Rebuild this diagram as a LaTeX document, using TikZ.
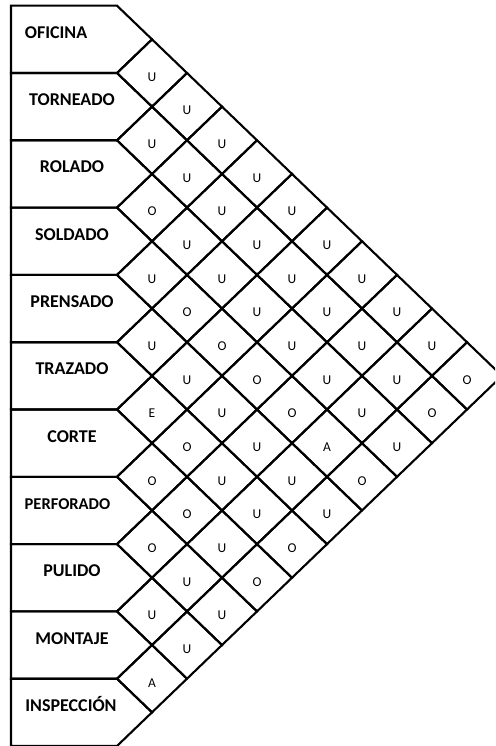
\documentclass[tikz,border=0pt]{standalone}
\usepackage{fontspec}
\setmainfont{Carlito}
\begin{document}
\begin{tikzpicture}[x=1pt,y=-1pt,
  grid/.style={line width=2.1pt, line join=miter},
  dept/.style={font=\bfseries\fontsize{18}{18}\selectfont, inner sep=0, anchor=base},
  rel/.style={font=\fontsize{13.5}{13.5}\selectfont, inner sep=0, anchor=base}]
\useasboundingbox (0,0) rectangle (495,746);
\clip (0,0) rectangle (495,746);
% department boxes
\foreach \k in {0,...,10} {
  \pgfmathsetmacro\t{5.7+67.3*\k}
  \pgfmathsetmacro\m{\t+33.65}
  \pgfmathsetmacro\b{\t+67.3}
  \draw[grid] (11,\t) -- (117,\t) -- (152,\m) -- (117,\b) -- (11,\b) -- cycle;
}
% relationship diamonds
\foreach \c/\s/\v in {1/1/U,1/3/U,1/5/O,1/7/U,1/9/U,1/11/E,1/13/O,1/15/O,1/17/U,1/19/A,
  2/2/U,2/4/U,2/6/U,2/8/O,2/10/U,2/12/O,2/14/O,2/16/U,2/18/U,
  3/3/U,3/5/U,3/7/U,3/9/O,3/11/U,3/13/U,3/15/U,3/17/U,
  4/4/U,4/6/U,4/8/U,4/10/O,4/12/U,4/14/U,4/16/O,
  5/5/U,5/7/U,5/9/U,5/11/O,5/13/U,5/15/O,
  6/6/U,6/8/U,6/10/U,6/12/A,6/14/U,
  7/7/U,7/9/U,7/11/U,7/13/O,
  8/8/U,8/10/U,8/12/U,
  9/9/U,9/11/O,
  10/10/O} {
  \pgfmathsetmacro\cx{152+35*(\c-1)}
  \pgfmathsetmacro\cy{39.35+33.65*\s}
  \draw[grid] (\cx-35,\cy) -- (\cx,\cy-33.65) -- (\cx+35,\cy) -- (\cx,\cy+33.65) -- cycle;
  \node[rel] (c\c-\s) at (\cx,\cy+8.3) {\v};
}
% department labels
\node[dept] (d0) at (56,38.7) {OFICINA};
\node[dept] (d1) at (72,105.8) {TORNEADO};
\node[dept] (d2) at (72,172.8) {ROLADO};
\node[dept] (d3) at (72,240.3) {SOLDADO};
\node[dept] (d4) at (72,307.8) {PRENSADO};
\node[dept] (d5) at (72,374.8) {TRAZADO};
\node[dept] (d6) at (72,442.3) {CORTE};
\node[dept,font=\bfseries\fontsize{16.5}{16.5}\selectfont] (d7) at (67.5,509.3) {PERFORADO};
\node[dept] (d8) at (72,576.8) {PULIDO};
\node[dept] (d9) at (72,644.3) {MONTAJE};
\node[dept] (d10) at (71,711.3) {INSPECCIÓN};
\end{tikzpicture}
\end{document}
